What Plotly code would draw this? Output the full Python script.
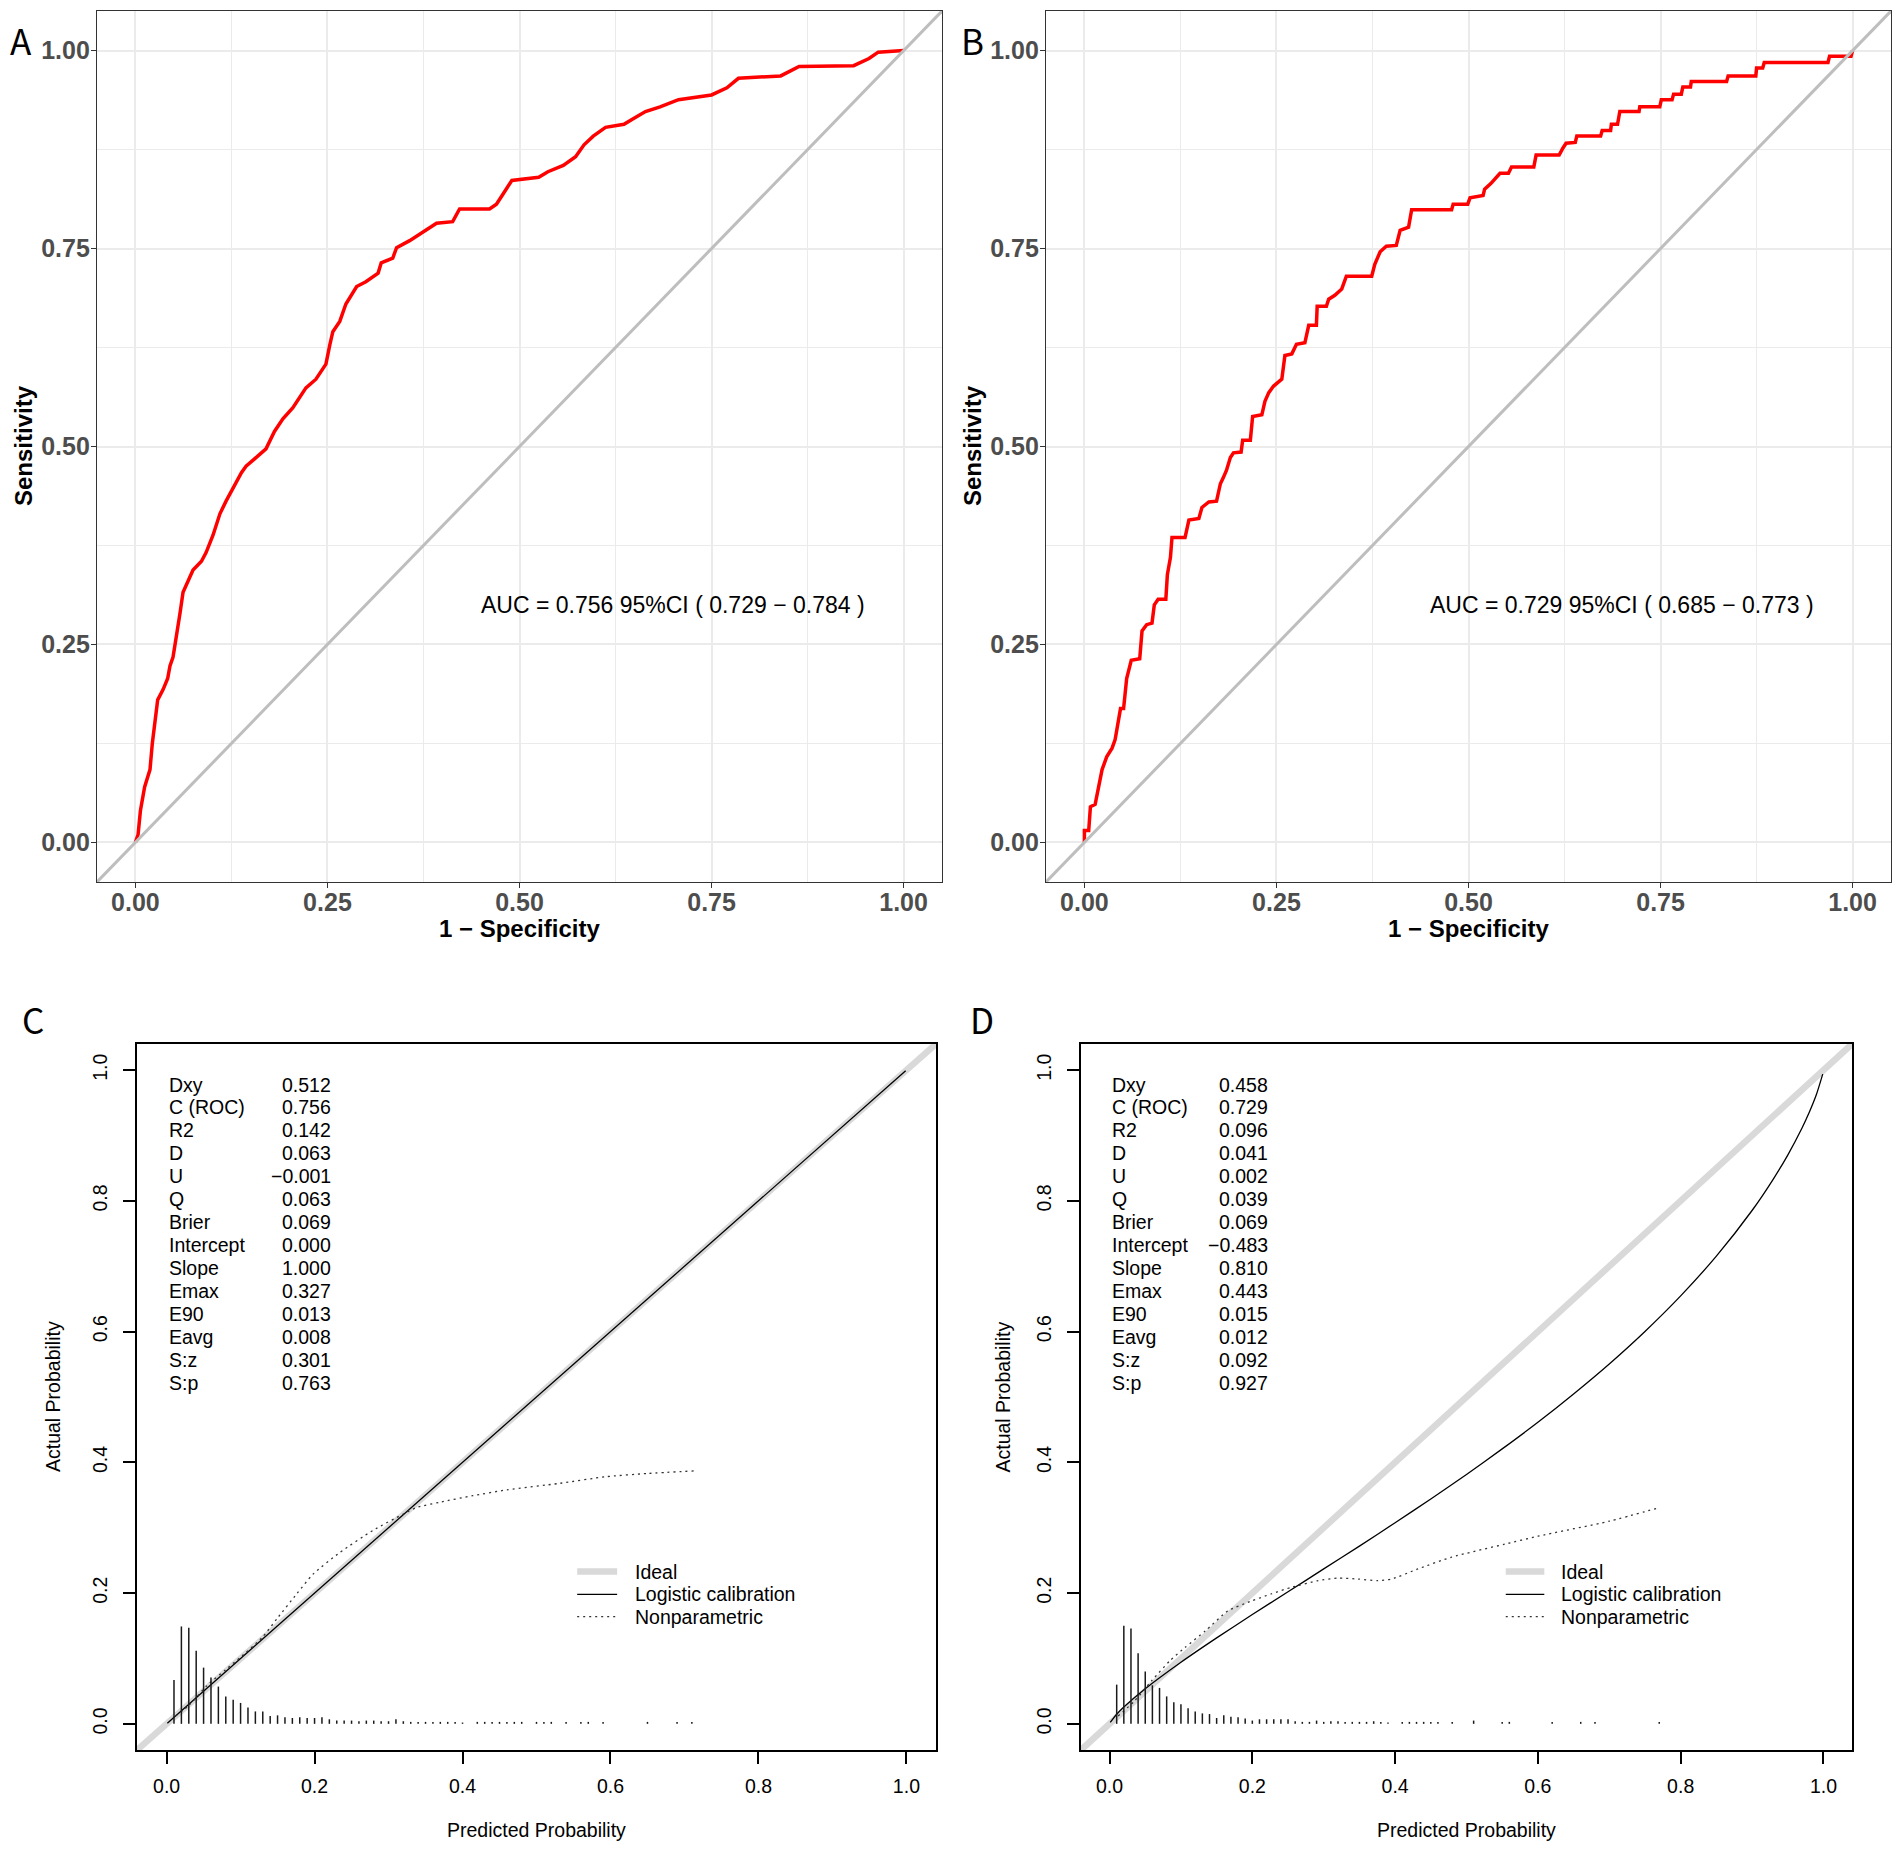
import plotly.graph_objects as go

# ---------------- ROC data (panels A and B) ----------------
roc_a_fpr = [0, 0.0035, 0.0065, 0.012, 0.019, 0.022, 0.029, 0.036, 0.042, 0.045, 0.049, 0.053,
             0.058, 0.062, 0.066, 0.075, 0.086, 0.092, 0.101, 0.11, 0.118, 0.129, 0.138, 0.144,
             0.157, 0.17, 0.181, 0.192, 0.205, 0.222, 0.235, 0.248, 0.253, 0.257, 0.266, 0.274,
             0.288, 0.3, 0.316, 0.32, 0.335, 0.34, 0.357, 0.374, 0.392, 0.413, 0.422, 0.461,
             0.47, 0.478, 0.49, 0.525, 0.537, 0.557, 0.573, 0.584, 0.596, 0.612, 0.636, 0.648,
             0.664, 0.683, 0.707, 0.75, 0.77, 0.785, 0.84, 0.864, 0.935, 0.955, 0.967, 1.0]
roc_a_tpr = [0, 0.01, 0.04, 0.07, 0.092, 0.125, 0.18, 0.193, 0.207, 0.223, 0.234, 0.262,
             0.289, 0.316, 0.325, 0.344, 0.355, 0.366, 0.388, 0.415, 0.431, 0.45, 0.467, 0.475,
             0.486, 0.497, 0.519, 0.535, 0.549, 0.574, 0.585, 0.604, 0.628, 0.645, 0.658, 0.68,
             0.702, 0.708, 0.719, 0.732, 0.738, 0.751, 0.76, 0.771, 0.782, 0.784, 0.8, 0.8,
             0.806, 0.818, 0.836, 0.84, 0.847, 0.855, 0.866, 0.881, 0.892, 0.903, 0.907, 0.914,
             0.923, 0.929, 0.938, 0.944, 0.953, 0.965, 0.968, 0.98, 0.981, 0.99, 0.998, 1.0]

roc_b_fpr = [0, 0, 0.0056, 0.0078, 0.014, 0.019, 0.023, 0.029, 0.036, 0.04, 0.047, 0.051,
             0.055, 0.061, 0.072, 0.075, 0.081, 0.088, 0.091, 0.096, 0.106, 0.108, 0.112, 0.114,
             0.131, 0.136, 0.149, 0.153, 0.162, 0.172, 0.177, 0.181, 0.185, 0.19, 0.194, 0.204,
             0.206, 0.216, 0.219, 0.231, 0.235, 0.24, 0.246, 0.257, 0.261, 0.27, 0.276, 0.287,
             0.292, 0.302, 0.303, 0.315, 0.318, 0.326, 0.335, 0.341, 0.374, 0.378, 0.385, 0.393,
             0.406, 0.411, 0.422, 0.426, 0.478, 0.48, 0.499, 0.502, 0.519, 0.521, 0.529, 0.541,
             0.552, 0.556, 0.585, 0.588, 0.618, 0.623, 0.627, 0.639, 0.641, 0.672, 0.674, 0.685,
             0.686, 0.694, 0.697, 0.722, 0.723, 0.749, 0.751, 0.765, 0.767, 0.777, 0.779, 0.789,
             0.79, 0.836, 0.838, 0.874, 0.875, 0.883, 0.885, 0.968, 0.97, 0.998, 1.0]
roc_b_tpr = [0, 0.015, 0.015, 0.045, 0.048, 0.07, 0.092, 0.108, 0.119, 0.13, 0.169, 0.169,
             0.207, 0.23, 0.232, 0.267, 0.275, 0.277, 0.3, 0.307, 0.307, 0.338, 0.36, 0.385,
             0.385, 0.407, 0.409, 0.423, 0.43, 0.431, 0.453, 0.461, 0.47, 0.486, 0.492, 0.493,
             0.508, 0.508, 0.538, 0.54, 0.557, 0.568, 0.576, 0.585, 0.615, 0.617, 0.629, 0.631,
             0.653, 0.653, 0.677, 0.677, 0.686, 0.691, 0.699, 0.715, 0.715, 0.73, 0.746, 0.753,
             0.754, 0.773, 0.777, 0.799, 0.799, 0.806, 0.806, 0.814, 0.817, 0.825, 0.832, 0.845,
             0.845, 0.853, 0.853, 0.868, 0.868, 0.877, 0.883, 0.884, 0.892, 0.892, 0.899, 0.899,
             0.907, 0.907, 0.923, 0.923, 0.929, 0.929, 0.938, 0.938, 0.945, 0.945, 0.954, 0.954,
             0.961, 0.961, 0.968, 0.968, 0.978, 0.978, 0.985, 0.985, 0.993, 0.993, 1.0]

auc_a_text = "AUC = 0.756 95%CI ( 0.729 \u2212 0.784 )"
auc_b_text = "AUC = 0.729 95%CI ( 0.685 \u2212 0.773 )"

roc_ticks = [0, 0.25, 0.5, 0.75, 1.0]
roc_ticklabels = ["0.00", "0.25", "0.50", "0.75", "1.00"]
roc_minor = [0.125, 0.375, 0.625, 0.875]

# ---------------- calibration data (panels C and D) ----------------
stat_names = ["Dxy", "C (ROC)", "R2", "D", "U", "Q", "Brier", "Intercept", "Slope",
              "Emax", "E90", "Eavg", "S:z", "S:p"]
stats_c = ["0.512", "0.756", "0.142", "0.063", "\u22120.001", "0.063", "0.069", "0.000",
           "1.000", "0.327", "0.013", "0.008", "0.301", "0.763"]
stats_d = ["0.458", "0.729", "0.096", "0.041", "0.002", "0.039", "0.069", "\u22120.483",
           "0.810", "0.443", "0.015", "0.012", "0.092", "0.927"]

# spike histogram of predicted probabilities
spike_c_x = [0.01, 0.02, 0.03, 0.04, 0.05, 0.06, 0.07, 0.08, 0.09, 0.10, 0.11, 0.12, 0.13, 0.14,
             0.15, 0.16, 0.17, 0.18, 0.19, 0.20, 0.21, 0.22, 0.23, 0.24, 0.25, 0.26, 0.27, 0.28,
             0.29, 0.30, 0.31, 0.32, 0.33, 0.34, 0.35, 0.36, 0.37, 0.38, 0.39, 0.40,
             0.42, 0.43, 0.44, 0.45, 0.46, 0.47, 0.48, 0.50, 0.51, 0.52, 0.54, 0.56, 0.57,
             0.59, 0.65, 0.69, 0.71]
spike_c_h = [0.067, 0.149, 0.147, 0.112, 0.086, 0.071, 0.057, 0.042, 0.037, 0.032, 0.025, 0.019,
             0.019, 0.012, 0.013, 0.010, 0.009, 0.010, 0.009, 0.009, 0.010, 0.007, 0.005, 0.005,
             0.005, 0.004, 0.005, 0.005, 0.004, 0.004, 0.007, 0.004, 0.003, 0.003, 0.003, 0.003,
             0.003, 0.003, 0.003, 0.002,
             0.003, 0.003, 0.003, 0.003, 0.003, 0.003, 0.003, 0.003, 0.003, 0.003, 0.003, 0.003,
             0.003, 0.003, 0.003, 0.003, 0.003]
spike_d_x = [0.01, 0.02, 0.03, 0.04, 0.05, 0.06, 0.07, 0.08, 0.09, 0.10, 0.11, 0.12, 0.13, 0.14,
             0.15, 0.16, 0.17, 0.18, 0.19, 0.20, 0.21, 0.22, 0.23, 0.24, 0.25, 0.26, 0.27, 0.28,
             0.29, 0.30, 0.31, 0.32, 0.33, 0.34, 0.35, 0.36, 0.37, 0.38, 0.39,
             0.41, 0.42, 0.43, 0.44, 0.45, 0.46, 0.48, 0.51, 0.55, 0.56, 0.62, 0.66, 0.68, 0.77]
spike_d_h = [0.060, 0.150, 0.146, 0.108, 0.080, 0.059, 0.055, 0.042, 0.033, 0.030, 0.024, 0.019,
             0.016, 0.015, 0.009, 0.013, 0.011, 0.010, 0.008, 0.005, 0.007, 0.007, 0.007, 0.007,
             0.007, 0.004, 0.003, 0.003, 0.005, 0.003, 0.004, 0.004, 0.003, 0.003, 0.003, 0.003,
             0.004, 0.003, 0.002,
             0.003, 0.003, 0.003, 0.003, 0.003, 0.003, 0.003, 0.005, 0.003, 0.003, 0.003, 0.003,
             0.003, 0.003]

# nonparametric (loess) calibration curves
np_c_x = [0.012, 0.03, 0.054, 0.08, 0.1, 0.129, 0.15, 0.176, 0.198, 0.234, 0.279, 0.32,
          0.338, 0.369, 0.414, 0.46, 0.532, 0.593, 0.65, 0.714]
np_c_y = [0.012, 0.028, 0.058, 0.083, 0.102, 0.132, 0.162, 0.199, 0.229, 0.262, 0.296, 0.321,
          0.331, 0.339, 0.349, 0.358, 0.368, 0.378, 0.383, 0.387]
np_d_x = [0.012, 0.035, 0.059, 0.085, 0.106, 0.134, 0.166, 0.199, 0.227, 0.255, 0.292, 0.32,
          0.348, 0.376, 0.395, 0.432, 0.479, 0.554, 0.6, 0.7, 0.771]
np_d_y = [0.012, 0.035, 0.066, 0.097, 0.117, 0.142, 0.173, 0.188, 0.199, 0.209, 0.219, 0.223,
          0.2215, 0.219, 0.2215, 0.237, 0.255, 0.275, 0.287, 0.31, 0.331]

# logistic calibration curves
logit_c_x = [0.001, 0.999]
logit_c_y = [0.001, 0.999]
logit_d_x = [0.001, 0.01, 0.02, 0.05, 0.1, 0.15, 0.2, 0.25, 0.3, 0.35, 0.4, 0.45, 0.5, 0.55,
             0.6, 0.65, 0.7, 0.75, 0.8, 0.85, 0.9, 0.93, 0.95, 0.97, 0.98, 0.99, 0.999]
logit_d_y = [0.0023, 0.0147, 0.0257, 0.0537, 0.0942, 0.1315, 0.1672, 0.2021, 0.237, 0.2719,
             0.3077, 0.344, 0.3815, 0.4206, 0.4613, 0.5047, 0.5506, 0.6003, 0.6547, 0.7155,
             0.7853, 0.8338, 0.8701, 0.9116, 0.9352, 0.9623, 0.994]

legend_names = ["Ideal", "Logistic calibration", "Nonparametric"]
cal_ticks = [0, 0.2, 0.4, 0.6, 0.8, 1.0]
cal_ticklabels = ["0.0", "0.2", "0.4", "0.6", "0.8", "1.0"]

# the page body keeps its default 8px margin, so the figure starts at (8, 8)
OFF = 8
W, H = 1902 - OFF, 1850 - OFF
FONT = "Liberation Sans, Arial, sans-serif"
ROC_RANGE = [-0.05, 1.05]
CAL_RANGE = [-0.04, 1.04]


def px_x(p):
    return (p - OFF) / W


def px_y(p):
    return 1 - (p - OFF) / H


def roc_axis(domain, anchor, vertical=False):
    return dict(domain=domain, anchor=anchor, range=ROC_RANGE,
                tickmode="array", tickvals=roc_ticks, ticktext=roc_ticklabels,
                showgrid=True, gridcolor="#EBEBEB", gridwidth=1.6,
                minor=dict(tickvals=roc_minor, showgrid=True, gridcolor="#EBEBEB", gridwidth=1.0),
                showline=True, mirror=True, linecolor="#333333", linewidth=1.4,
                ticks="outside", ticklen=5, tickwidth=1.4, tickcolor="#333333",
                ticklabelstandoff=-4 if vertical else -7,
                tickfont=dict(family=FONT, size=25, color="#4D4D4D", weight="bold"),
                zeroline=False, fixedrange=True)


def cal_axis(domain, anchor, vertical=False):
    return dict(domain=domain, anchor=anchor, range=CAL_RANGE,
                tickmode="array", tickvals=cal_ticks, ticktext=cal_ticklabels,
                showgrid=False, zeroline=False,
                showline=True, mirror=True, linecolor="black", linewidth=1.5,
                ticks="outside", ticklen=12, tickwidth=1.5, tickcolor="black",
                tickangle=-90 if vertical else 0,
                ticklabelstandoff=8 if vertical else 6,
                tickfont=dict(family=FONT, size=19.5, color="black"), fixedrange=True)


def spike_xy(xs, hs):
    sx, sy = [], []
    for x, h in zip(xs, hs):
        sx += [x, x, None]
        sy += [0, h, None]
    return sx, sy


fig = go.Figure()

# ---- ROC panels ----
for k, (fpr, tpr) in enumerate([(roc_a_fpr, roc_a_tpr), (roc_b_fpr, roc_b_tpr)]):
    xa, ya = ("x", "y") if k == 0 else ("x2", "y2")
    fig.add_trace(go.Scatter(x=fpr, y=tpr, mode="lines", xaxis=xa, yaxis=ya,
                             line=dict(color="#FF0000", width=3.5), showlegend=False))
    fig.add_trace(go.Scatter(x=ROC_RANGE, y=ROC_RANGE, mode="lines", xaxis=xa, yaxis=ya,
                             line=dict(color="#BEBEBE", width=3), showlegend=False))

# ---- calibration panels ----
cal_sets = [
    ("x3", "y3", logit_c_x, logit_c_y, np_c_x, np_c_y, spike_c_x, spike_c_h),
    ("x4", "y4", logit_d_x, logit_d_y, np_d_x, np_d_y, spike_d_x, spike_d_h),
]
for xa, ya, lx, ly, nx, ny, sxs, shs in cal_sets:
    fig.add_trace(go.Scatter(x=CAL_RANGE, y=CAL_RANGE, mode="lines", xaxis=xa, yaxis=ya,
                             line=dict(color="#D9D9D9", width=6.5), showlegend=False))
    fig.add_trace(go.Scatter(x=lx, y=ly, mode="lines", xaxis=xa, yaxis=ya,
                             line=dict(color="black", width=1.3, shape="spline", smoothing=0.6),
                             showlegend=False))
    fig.add_trace(go.Scatter(x=nx, y=ny, mode="lines", xaxis=xa, yaxis=ya,
                             line=dict(color="#333333", width=1.3, dash="2px,4px",
                                       shape="spline", smoothing=0.6),
                             showlegend=False))
    sx, sy = spike_xy(sxs, shs)
    fig.add_trace(go.Scatter(x=sx, y=sy, mode="lines", xaxis=xa, yaxis=ya,
                             line=dict(color="#1A1A1A", width=1.5), showlegend=False))

annotations = []
shapes = []

# panel letters
for letter, lx, ly in [("A", 21, 39), ("B", 972, 39), ("C", 33, 1018), ("D", 982, 1018)]:
    annotations.append(dict(text=letter, x=px_x(lx), y=px_y(ly), xref="paper", yref="paper",
                            showarrow=False, xanchor="center", yanchor="middle",
                            font=dict(family="Noto Sans CJK SC, Noto Sans, sans-serif",
                                      size=35, color="black")))

# ROC titles and AUC labels
for cx, sx, xa, ya, txt in [(519.5, 23, "x", "y", auc_a_text), (1468.5, 972, "x2", "y2", auc_b_text)]:
    annotations.append(dict(text="1 \u2212 Specificity", x=px_x(cx), y=px_y(928), xref="paper",
                            yref="paper", showarrow=False, xanchor="center", yanchor="middle",
                            font=dict(family=FONT, size=24, color="black", weight="bold")))
    annotations.append(dict(text="Sensitivity", x=px_x(sx), y=px_y(446), xref="paper",
                            yref="paper", showarrow=False, textangle=-90, xanchor="center",
                            yanchor="middle",
                            font=dict(family=FONT, size=24, color="black", weight="bold")))
    annotations.append(dict(text=txt, x=0.7, y=0.3, xref=xa, yref=ya, showarrow=False,
                            xanchor="center", yanchor="middle",
                            font=dict(family=FONT, size=23, color="black")))

# calibration titles, stats and legend
stat_top, stat_step = 0.978, 0.0351
leg_x0, leg_x1, leg_tx = 0.555, 0.609, 0.630
leg_rows = [0.233, 0.198, 0.164]
leg_styles = [dict(color="#D9D9D9", width=6.5), dict(color="black", width=1.3),
              dict(color="#333333", width=1.3, dash="2px,4px")]
for cx, sx, xa, ya, vals in [(536.5, 53, "x3", "y3", stats_c), (1466.5, 1002.5, "x4", "y4", stats_d)]:
    annotations.append(dict(text="Predicted Probability", x=px_x(cx), y=px_y(1830), xref="paper",
                            yref="paper", showarrow=False, xanchor="center", yanchor="middle",
                            font=dict(family=FONT, size=19.5, color="black")))
    annotations.append(dict(text="Actual Probability", x=px_x(sx), y=px_y(1397), xref="paper",
                            yref="paper", showarrow=False, textangle=-90, xanchor="center",
                            yanchor="middle", font=dict(family=FONT, size=19.5, color="black")))
    for i, (name, val) in enumerate(zip(stat_names, vals)):
        yy = stat_top - i * stat_step
        annotations.append(dict(text=name, x=0.0, y=yy, xref=xa, yref=ya, showarrow=False,
                                xanchor="left", yanchor="middle",
                                font=dict(family=FONT, size=19.5, color="black")))
        annotations.append(dict(text=val, x=0.225, y=yy, xref=xa, yref=ya, showarrow=False,
                                xanchor="right", yanchor="middle",
                                font=dict(family=FONT, size=19.5, color="black")))
    for name, yy, st in zip(legend_names, leg_rows, leg_styles):
        shapes.append(dict(type="line", xref=xa, yref=ya, x0=leg_x0, x1=leg_x1, y0=yy, y1=yy,
                           line=st))
        annotations.append(dict(text=name, x=leg_tx, y=yy, xref=xa, yref=ya, showarrow=False,
                                xanchor="left", yanchor="middle",
                                font=dict(family=FONT, size=19.5, color="black")))

fig.update_layout(
    width=W, height=H,
    margin=dict(l=0, r=0, t=0, b=0),
    paper_bgcolor="white", plot_bgcolor="white",
    showlegend=False,
    xaxis=roc_axis([px_x(97), px_x(942)], "y"),
    yaxis=roc_axis([px_y(882), px_y(11)], "x", True),
    xaxis2=roc_axis([px_x(1046), px_x(1891)], "y2"),
    yaxis2=roc_axis([px_y(882), px_y(11)], "x2", True),
    xaxis3=cal_axis([px_x(137), px_x(936)], "y3"),
    yaxis3=cal_axis([px_y(1750), px_y(1044)], "x3", True),
    xaxis4=cal_axis([px_x(1081), px_x(1852)], "y4"),
    yaxis4=cal_axis([px_y(1750), px_y(1044)], "x4", True),
    annotations=annotations,
    shapes=shapes,
)

fig.write_html("out.html")
